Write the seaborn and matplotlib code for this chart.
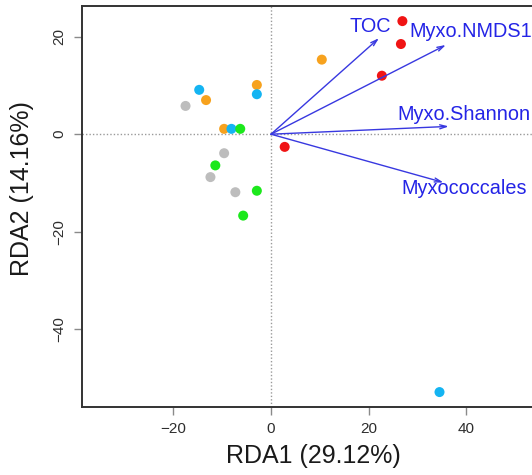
import matplotlib
matplotlib.use("Agg")
import matplotlib.pyplot as plt
import seaborn as sns
import pandas as pd

# Sample scores on the first two RDA axes
rda1 = [26.9, 26.6, 22.7, 2.8,
        -13.3, -2.9, -9.6, 10.4,
        -14.7, -2.9, -8.1, 34.5,
        -6.3, -11.4, -2.9, -5.7,
        -17.5, -9.6, -12.4, -7.3]
rda2 = [23.2, 18.5, 12.0, -2.6,
        7.0, 10.1, 1.1, 15.3,
        9.1, 8.2, 1.1, -52.9,
        1.1, -6.4, -11.6, -16.7,
        5.8, -3.9, -8.8, -11.9]
group = (["A"] * 4 + ["B"] * 4 + ["C"] * 4 + ["D"] * 4 + ["E"] * 4)
group_colors = {"A": "#f01414", "B": "#f7a21e", "C": "#14b4f2",
                "D": "#1ce81c", "E": "#bdbdbd"}

# Explanatory variable vectors (biplot arrows) and their label positions
env_names = ["TOC", "Myxo.NMDS1", "Myxo.Shannon", "Myxococcales"]
env_x = [22.1, 35.8, 36.4, 35.3]
env_y = [19.7, 18.3, 1.6, -9.9]
label_x = [20.3, 40.8, 39.5, 39.6]
label_y = [22.1, 21.1, 4.0, -11.2]

xlabel = "RDA1 (29.12%)"
ylabel = "RDA2 (14.16%)"
xticks = [-20, 0, 20, 40]
yticks = [-40, -20, 0, 20]

sns.set_theme(style="white")
plt.rcParams["font.family"] = ["Liberation Sans", "DejaVu Sans"]

fig = plt.figure(figsize=(5.32, 4.75), dpi=100)
ax = fig.add_axes([82 / 532, 1 - 406.7 / 475, 463 / 532, 400.7 / 475])

df = pd.DataFrame({"RDA1": rda1, "RDA2": rda2, "group": group})

ax.axhline(0, color="#9a9a9a", lw=1.0, ls=(0, (1, 1.5)), zorder=1)
ax.axvline(0, color="#9a9a9a", lw=1.0, ls=(0, (1, 1.5)), zorder=1)

sns.scatterplot(data=df, x="RDA1", y="RDA2", hue="group", palette=group_colors,
                s=52, edgecolor="none", legend=False, ax=ax, zorder=3)

arrow_color = "#3838e0"
for name, ex, ey, lx, ly in zip(env_names, env_x, env_y, label_x, label_y):
    ax.annotate("", xy=(ex, ey), xytext=(0, 0),
                arrowprops=dict(arrowstyle="->,head_length=0.4,head_width=0.12",
                                color=arrow_color, lw=1.0, shrinkA=0, shrinkB=0),
                zorder=4)
    ax.text(lx, ly, name, color="#2424e6", fontsize=14.3,
            ha="center", va="center", zorder=5)

ax.set_xlim(-38.7, 56.1)
ax.set_ylim(-55.9, 26.3)
ax.set_xticks(xticks)
ax.set_yticks(yticks)
ax.set_xlabel(xlabel, fontsize=18, color="#1a1a1a", labelpad=6)
ax.set_ylabel(ylabel, fontsize=18, color="#1a1a1a")
ax.yaxis.set_label_coords(-0.104, 0.545)
ax.tick_params(axis="both", direction="out", length=6, width=1.0,
               color="#8a8a8a", labelsize=11, labelcolor="#2e2e2e", pad=5,
               bottom=True, left=True)
for lab in ax.get_yticklabels():
    lab.set_rotation(90)
    lab.set_va("center")
for sp in ax.spines.values():
    sp.set_color("#333333")
    sp.set_linewidth(1.4)

fig.savefig("out.png", dpi=100)
